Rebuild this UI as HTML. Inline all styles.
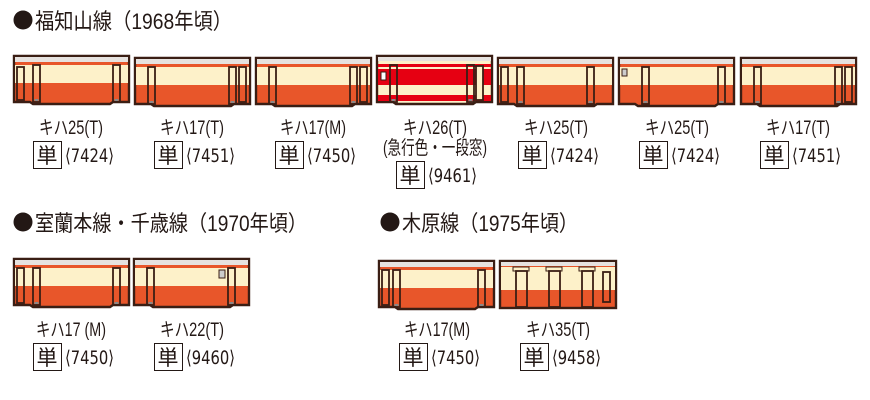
<!DOCTYPE html>
<html><head><meta charset="utf-8"><style>
body{margin:0;background:#fff;width:870px;height:400px;overflow:hidden}
svg{display:block}
text{font-family:"Liberation Sans","Noto Sans CJK JP",sans-serif;fill:#231815}
.n{font-family:"DejaVu Sans","Liberation Sans",sans-serif}
</style></head><body>
<svg width="870" height="400" viewBox="0 0 870 400">
<defs>
<g id="car">
  <path d="M1,1 H116 V47 H100 L97,49 H20 L17,47 H1 Z" fill="#e8562a" stroke="#3a1e14" stroke-width="2.4"/>
  <rect x="2" y="2" width="113" height="5" fill="#e6e2df"/>
  <rect x="2" y="10" width="113" height="18" fill="#fdf1c9"/>
</g>
<g id="door"><rect x="0" y="10" width="7" height="37" fill="none" stroke="#3a1e14" stroke-width="1.8"/><rect x="1.5" y="44" width="4" height="2" fill="#888"/></g>
<g id="tan"><rect x="0.5" y="0.5" width="28" height="27" fill="#fff" stroke="#231815"/><text x="3.5" y="22" font-size="21">単</text></g>
</defs>

<circle cx="23" cy="20" r="9.5" fill="#231815"/>
<text x="35" y="29" font-size="22" textLength="197" lengthAdjust="spacingAndGlyphs">福知山線（1968年頃）</text>
<circle cx="23" cy="222" r="9.5" fill="#231815"/>
<text x="35" y="231" font-size="22" textLength="272" lengthAdjust="spacingAndGlyphs">室蘭本線・千歳線（1970年頃）</text>
<circle cx="390" cy="222" r="9.5" fill="#231815"/>
<text x="402" y="231" font-size="22" textLength="176" lengthAdjust="spacingAndGlyphs">木原線（1975年頃）</text>

<!-- row1 cars -->
<g transform="translate(13,55)"><use href="#car"/><rect x="4" y="12" width="7" height="33" fill="none" stroke="#3a1e14" stroke-width="1.8"/><use href="#door" x="20"/><use href="#door" x="100"/></g>
<g transform="translate(134,57)"><use href="#car"/><use href="#door" x="14"/><use href="#door" x="95"/><rect x="105" y="10" width="7" height="35" fill="none" stroke="#3a1e14" stroke-width="1.8"/></g>
<g transform="translate(255,57)"><use href="#car"/><use href="#door" x="14"/><use href="#door" x="95"/><rect x="105" y="10" width="7" height="35" fill="none" stroke="#3a1e14" stroke-width="1.8"/></g>
<g transform="translate(376,55)">
  <path d="M1,1 H116 V47 H100 L97,49 H20 L17,47 H1 Z" fill="#fdf1c9" stroke="#3a1e14" stroke-width="2.4"/>
  <rect x="2" y="2" width="113" height="4" fill="#e6e2df"/>
  <rect x="2" y="9" width="113" height="3" fill="#e60012"/>
  <rect x="2" y="14" width="113" height="16" fill="#e60012"/>
  <rect x="2" y="40" width="113" height="6" fill="#e60012"/>
  <rect x="5" y="17" width="5" height="8" fill="#fff" stroke="#3a1e14"/>
  <use href="#door" x="14"/><use href="#door" x="91"/><rect x="100" y="11" width="7" height="34" fill="#fdf1c9" stroke="#3a1e14" stroke-width="1.8"/>
</g>
<g transform="translate(497,57)"><use href="#car"/><rect x="4" y="10" width="7" height="35" fill="none" stroke="#3a1e14" stroke-width="1.8"/><use href="#door" x="20"/><use href="#door" x="90"/></g>
<g transform="translate(618,57)"><use href="#car"/><rect x="4" y="12" width="5" height="7" fill="#ccc" stroke="#3a1e14"/><use href="#door" x="24"/><use href="#door" x="100"/></g>
<g transform="translate(740,57)"><use href="#car"/><use href="#door" x="14"/><use href="#door" x="95"/><rect x="105" y="10" width="7" height="35" fill="none" stroke="#3a1e14" stroke-width="1.8"/></g>

<!-- row2 cars -->
<g transform="translate(13,258)"><use href="#car"/><rect x="4" y="10" width="7" height="35" fill="none" stroke="#3a1e14" stroke-width="1.8"/><use href="#door" x="20"/><use href="#door" x="100"/></g>
<g transform="translate(133,258)"><use href="#car"/><use href="#door" x="14"/><use href="#door" x="95"/><rect x="86" y="12" width="6" height="8" fill="#ccc" stroke="#3a1e14"/></g>
<g transform="translate(378,260)"><use href="#car"/><rect x="4" y="10" width="7" height="35" fill="none" stroke="#3a1e14" stroke-width="1.8"/><use href="#door" x="15"/><use href="#door" x="100"/></g>
<g transform="translate(499,260)">
  <rect x="1" y="1" width="116" height="47" fill="#e8562a" stroke="#3a1e14" stroke-width="2.4"/>
  <rect x="2" y="2" width="114" height="4" fill="#e6e2df"/>
  <rect x="2" y="7" width="114" height="23" fill="#fdf1c9"/>
  <rect x="14" y="7" width="16" height="4" fill="#fdf1c9" stroke="#3a1e14" stroke-width="1"/>
  <rect x="47" y="7" width="16" height="4" fill="#fdf1c9" stroke="#3a1e14" stroke-width="1"/>
  <rect x="80" y="7" width="16" height="4" fill="#fdf1c9" stroke="#3a1e14" stroke-width="1"/>
  <rect x="17" y="11" width="11" height="36" fill="none" stroke="#3a1e14" stroke-width="1.8"/>
  <rect x="50" y="11" width="11" height="36" fill="none" stroke="#3a1e14" stroke-width="1.8"/>
  <rect x="83" y="11" width="11" height="36" fill="none" stroke="#3a1e14" stroke-width="1.8"/>
  <rect x="104" y="12" width="7" height="30" fill="none" stroke="#3a1e14" stroke-width="1.8"/>
</g>

<!-- labels -->
<g font-size="19" text-anchor="middle">
<text x="71" y="134" textLength="64" lengthAdjust="spacingAndGlyphs">キハ25(T)</text>
<text x="192" y="134" textLength="64" lengthAdjust="spacingAndGlyphs">キハ17(T)</text>
<text x="313" y="134" textLength="66" lengthAdjust="spacingAndGlyphs">キハ17(M)</text>
<text x="435" y="134" textLength="64" lengthAdjust="spacingAndGlyphs">キハ26(T)</text>
<text x="435" y="154" textLength="104" lengthAdjust="spacingAndGlyphs">(急行色・一段窓)</text>
<text x="556" y="134" textLength="64" lengthAdjust="spacingAndGlyphs">キハ25(T)</text>
<text x="677" y="134" textLength="64" lengthAdjust="spacingAndGlyphs">キハ25(T)</text>
<text x="798" y="134" textLength="64" lengthAdjust="spacingAndGlyphs">キハ17(T)</text>
<text x="71" y="336" textLength="70" lengthAdjust="spacingAndGlyphs">キハ17 (M)</text>
<text x="192" y="336" textLength="64" lengthAdjust="spacingAndGlyphs">キハ22(T)</text>
<text x="437" y="336" textLength="66" lengthAdjust="spacingAndGlyphs">キハ17(M)</text>
<text x="558" y="336" textLength="64" lengthAdjust="spacingAndGlyphs">キハ35(T)</text>
</g>
<g font-size="19">
<g transform="translate(33,141)"><use href="#tan"/><text class="n" x="32" y="21" textLength="49" lengthAdjust="spacingAndGlyphs">⟨7424⟩</text></g>
<g transform="translate(154,141)"><use href="#tan"/><text class="n" x="32" y="21" textLength="49" lengthAdjust="spacingAndGlyphs">⟨7451⟩</text></g>
<g transform="translate(275,141)"><use href="#tan"/><text class="n" x="32" y="21" textLength="49" lengthAdjust="spacingAndGlyphs">⟨7450⟩</text></g>
<g transform="translate(396,161)"><use href="#tan"/><text class="n" x="32" y="21" textLength="49" lengthAdjust="spacingAndGlyphs">⟨9461⟩</text></g>
<g transform="translate(518,141)"><use href="#tan"/><text class="n" x="32" y="21" textLength="49" lengthAdjust="spacingAndGlyphs">⟨7424⟩</text></g>
<g transform="translate(639,141)"><use href="#tan"/><text class="n" x="32" y="21" textLength="49" lengthAdjust="spacingAndGlyphs">⟨7424⟩</text></g>
<g transform="translate(760,141)"><use href="#tan"/><text class="n" x="32" y="21" textLength="49" lengthAdjust="spacingAndGlyphs">⟨7451⟩</text></g>
<g transform="translate(33,343)"><use href="#tan"/><text class="n" x="32" y="21" textLength="49" lengthAdjust="spacingAndGlyphs">⟨7450⟩</text></g>
<g transform="translate(154,343)"><use href="#tan"/><text class="n" x="32" y="21" textLength="49" lengthAdjust="spacingAndGlyphs">⟨9460⟩</text></g>
<g transform="translate(399,343)"><use href="#tan"/><text class="n" x="32" y="21" textLength="49" lengthAdjust="spacingAndGlyphs">⟨7450⟩</text></g>
<g transform="translate(520,343)"><use href="#tan"/><text class="n" x="32" y="21" textLength="49" lengthAdjust="spacingAndGlyphs">⟨9458⟩</text></g>
</g>
</svg>
</body></html>
